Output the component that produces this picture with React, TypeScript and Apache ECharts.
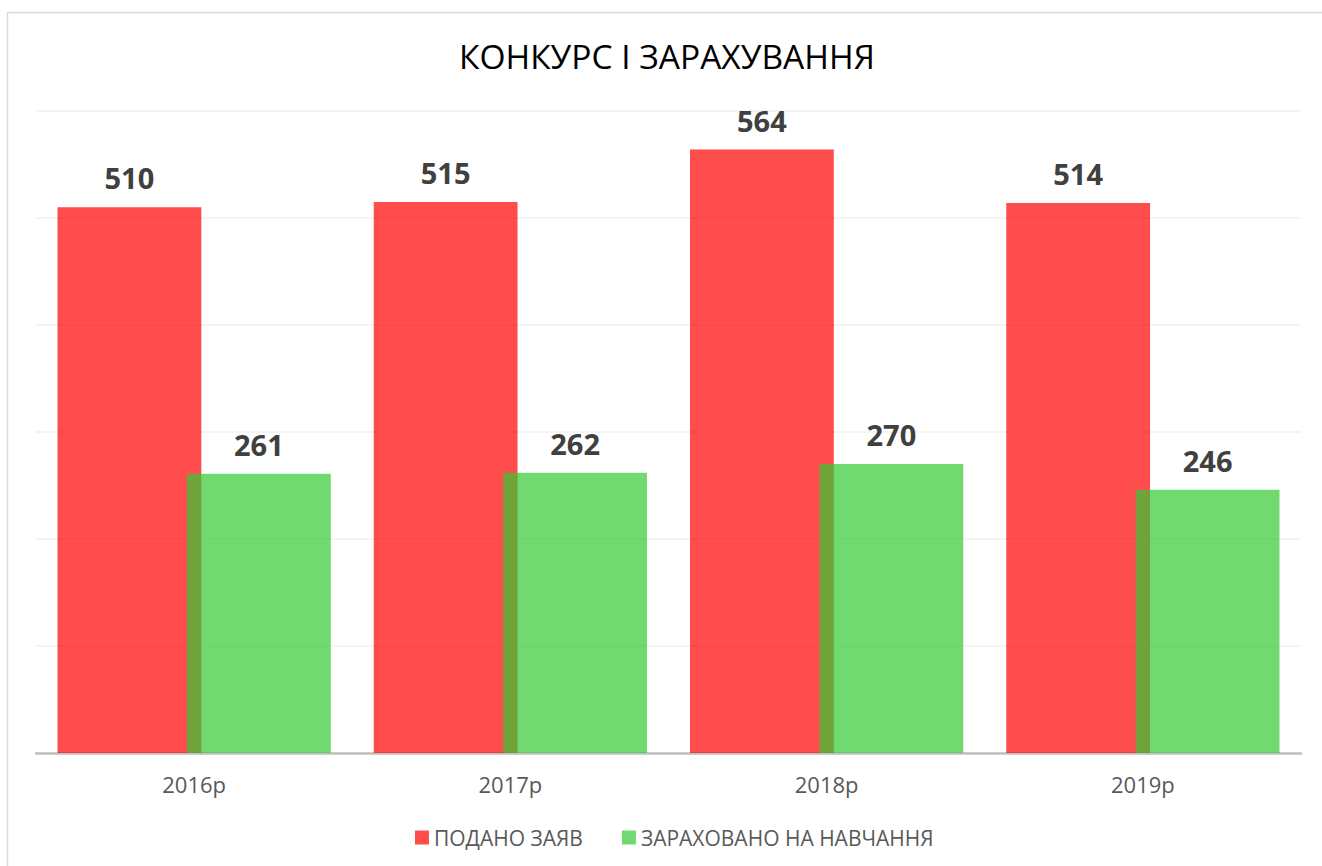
import React, { useEffect, useRef } from "react";
import * as echarts from "echarts";

const categories = ["2016р", "2017р", "2018р", "2019р"];
const submitted = [510, 515, 564, 514];
const enrolled = [261, 262, 270, 246];
const seriesNames = ["ПОДАНО ЗАЯВ", "ЗАРАХОВАНО НА НАВЧАННЯ"];
const titleText = "КОНКУРС І ЗАРАХУВАННЯ";

const FONT = "Open Sans";

export default function App() {
  const ref = useRef<HTMLDivElement>(null);
  useEffect(() => {
    const chart = echarts.init(ref.current!, null, { renderer: "svg" });
    const labelStyle = {
      show: true,
      position: "top",
      distance: 15,
      fontFamily: FONT,
      fontWeight: "bold",
      fontSize: 29,
      color: "#404040",
    };
    chart.setOption({
      animation: false,
      backgroundColor: "#ffffff",
      title: {
        text: titleText,
        left: 459,
        top: 39,
        padding: 0,
        textStyle: { fontFamily: FONT, fontSize: 33.5, fontWeight: "normal", color: "#000000" },
      },
      graphic: [
        {
          type: "rect",
          shape: { x: 7.5, y: 12.5, width: 1340, height: 880 },
          style: { fill: "none", stroke: "#d9d9d9", lineWidth: 1.5 },
          silent: true,
        },
      ],
      legend: {
        bottom: 18,
        left: 415,
        padding: 0,
        itemWidth: 14,
        itemHeight: 14,
        itemGap: 39,
        icon: "rect",
        textStyle: { fontFamily: FONT, fontSize: 21, color: "#595959" },
        data: seriesNames,
      },
      grid: { left: 36, right: 21, top: 111, bottom: 113, containLabel: false },
      xAxis: {
        type: "category",
        data: categories,
        axisLine: { lineStyle: { color: "#bfbfbf", width: 2.5 } },
        axisTick: { show: false },
        axisLabel: { fontFamily: FONT, fontSize: 22, color: "#595959", margin: 20 },
      },
      yAxis: {
        type: "value",
        min: 0,
        max: 600,
        interval: 100,
        axisLabel: { show: false },
        axisLine: { show: false },
        axisTick: { show: false },
        splitLine: { lineStyle: { color: "#f0f0f0", width: 1.5 } },
      },
      series: [
        {
          name: seriesNames[0],
          type: "bar",
          data: submitted,
          barGap: "-10%",
          barCategoryGap: "13.6%",
          itemStyle: { color: "rgba(255,0,0,0.7)" },
          label: labelStyle,
        },
        {
          name: seriesNames[1],
          type: "bar",
          data: enrolled,
          barGap: "-10%",
          barCategoryGap: "13.6%",
          itemStyle: { color: "rgba(51,202,51,0.7)" },
          label: labelStyle,
        },
      ],
    });
    return () => chart.dispose();
  }, []);
  return (
    <div
      ref={ref}
      style={{ position: "absolute", left: 0, top: 0, width: 1322, height: 866 }}
    />
  );
}
